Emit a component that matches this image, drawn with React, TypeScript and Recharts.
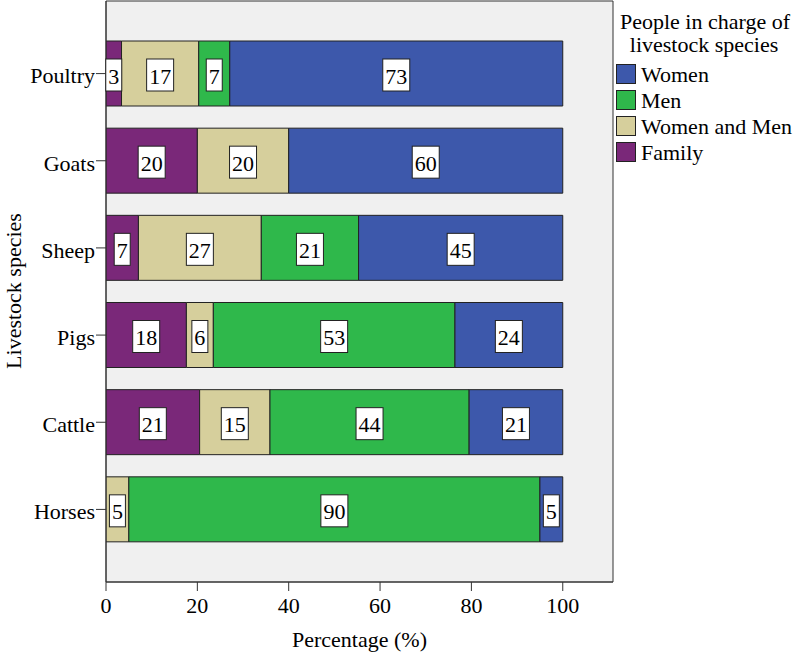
import React from 'react';
import { BarChart, Bar, XAxis, YAxis, CartesianGrid, Legend, LabelList } from 'recharts';

const species = ['Poultry', 'Goats', 'Sheep', 'Pigs', 'Cattle', 'Horses'];
const family = [3.4, 20.0, 7.1, 17.6, 20.5, 0];
const womenAndMen = [16.9, 20.0, 26.9, 5.9, 15.4, 5.0];
const men = [6.8, 0, 21.3, 52.9, 43.6, 90.0];
const women = [72.9, 60.0, 44.7, 23.6, 20.5, 5.0];
const xTicks = [0, 20, 40, 60, 80, 100];
const legendOrder = ['Women', 'Men', 'Women and Men', 'Family'];
const legendTitle = ['People in charge of', 'livestock species'];
const xTitle = 'Percentage (%)';
const yTitle = 'Livestock species';

const COLORS: Record<string, string> = {
  Women: '#3d58ab',
  Men: '#2fb84b',
  'Women and Men': '#d6cf9c',
  Family: '#7a2879',
};

const FONT = "'Liberation Serif', 'Times New Roman', serif";
const TXT = { fontFamily: FONT };

const data = species.map((s, i) => ({
  species: s,
  Family: family[i],
  'Women and Men': womenAndMen[i],
  Men: men[i],
  Women: women[i],
}));

const BoxLabel = (props: any) => {
  const { x, y, width, height, value } = props;
  if (!value) return null;
  const txt = String(Math.round(Number(value)));
  const w = txt.length * 11 + 5;
  const cx = Number(x) + Number(width) / 2;
  const cy = Number(y) + Number(height) / 2;
  return (
    <g>
      <rect x={cx - w / 2} y={cy - 14.5} width={w} height={32} fill="#ffffff" stroke="#222" strokeWidth={1} />
      <text x={cx} y={cy + 10} textAnchor="middle" fontSize={22} style={TXT} fill="#000">
        {txt}
      </text>
    </g>
  );
};

const renderLegend = () => (
  <svg width={185} height={170} style={{ display: 'block' }}>
    <text x={95} y={29} textAnchor="middle" fontSize={22} style={TXT} fill="#000">
      {legendTitle[0]}
    </text>
    <text x={94} y={52} textAnchor="middle" fontSize={22} style={TXT} fill="#000">
      {legendTitle[1]}
    </text>
    {legendOrder.map((name, i) => (
      <g key={name}>
        <rect x={6.5} y={64.5 + i * 26} width={19} height={19} fill={COLORS[name]} stroke="#222" strokeWidth={1} />
        <text x={31} y={82 + i * 26} fontSize={22} style={TXT} fill="#000">
          {name}
        </text>
      </g>
    ))}
  </svg>
);

export default function App() {
  const barKeys = ['Family', 'Women and Men', 'Men', 'Women'];
  return (
    <div style={{ position: 'absolute', left: 0, top: 0, width: 795, height: 653, background: '#fff' }}>
      <BarChart
        width={795}
        height={653}
        data={data}
        layout="vertical"
        margin={{ top: 1, right: 182, bottom: 0, left: 0 }}
        barSize={65}
      >
        <CartesianGrid
          fill="#f0f0f0"
          stroke="#333"
          strokeWidth={1}
          horizontalCoordinatesGenerator={(p: any) => [p.offset.top, p.offset.top + p.offset.height]}
          verticalCoordinatesGenerator={(p: any) => [p.offset.left, p.offset.left + p.offset.width]}
        />
        <XAxis
          type="number"
          domain={[0, 111]}
          ticks={xTicks}
          allowDataOverflow
          height={71}
          tickSize={9}
          tickMargin={6}
          axisLine={{ stroke: '#333' }}
          tickLine={{ stroke: '#333' }}
          tick={{ fontSize: 22, fill: '#000', style: TXT }}
        />
        <YAxis
          type="category"
          dataKey="species"
          width={106}
          padding={{ top: 29, bottom: 29 }}
          tickSize={10}
          tickMargin={1}
          axisLine={{ stroke: '#333' }}
          tickLine={{ stroke: '#333' }}
          tick={{ fontSize: 22, fill: '#000', style: TXT, dy: 2 }}
          interval={0}
        />
        <Legend
          content={renderLegend}
          layout="vertical"
          align="center"
          verticalAlign="middle"
          width={185}
          height={170}
          wrapperStyle={{ position: 'absolute', left: 610, top: 0, width: 185, height: 170 }}
        />
        {barKeys.map((k) => (
          <Bar key={k} dataKey={k} stackId="a" fill={COLORS[k]} stroke="#222" strokeWidth={1} isAnimationActive={false}>
            <LabelList dataKey={k} content={<BoxLabel />} />
          </Bar>
        ))}
      </BarChart>
      <svg style={{ position: 'absolute', left: 0, top: 0, pointerEvents: 'none' }} width={795} height={653}>
        <text x={359.5} y={647} textAnchor="middle" fontSize={22} style={TXT} fill="#000">
          {xTitle}
        </text>
        <text x={21} y={291} transform="rotate(-90, 21, 291)" textAnchor="middle" fontSize={22} style={TXT} fill="#000">
          {yTitle}
        </text>
      </svg>
    </div>
  );
}
